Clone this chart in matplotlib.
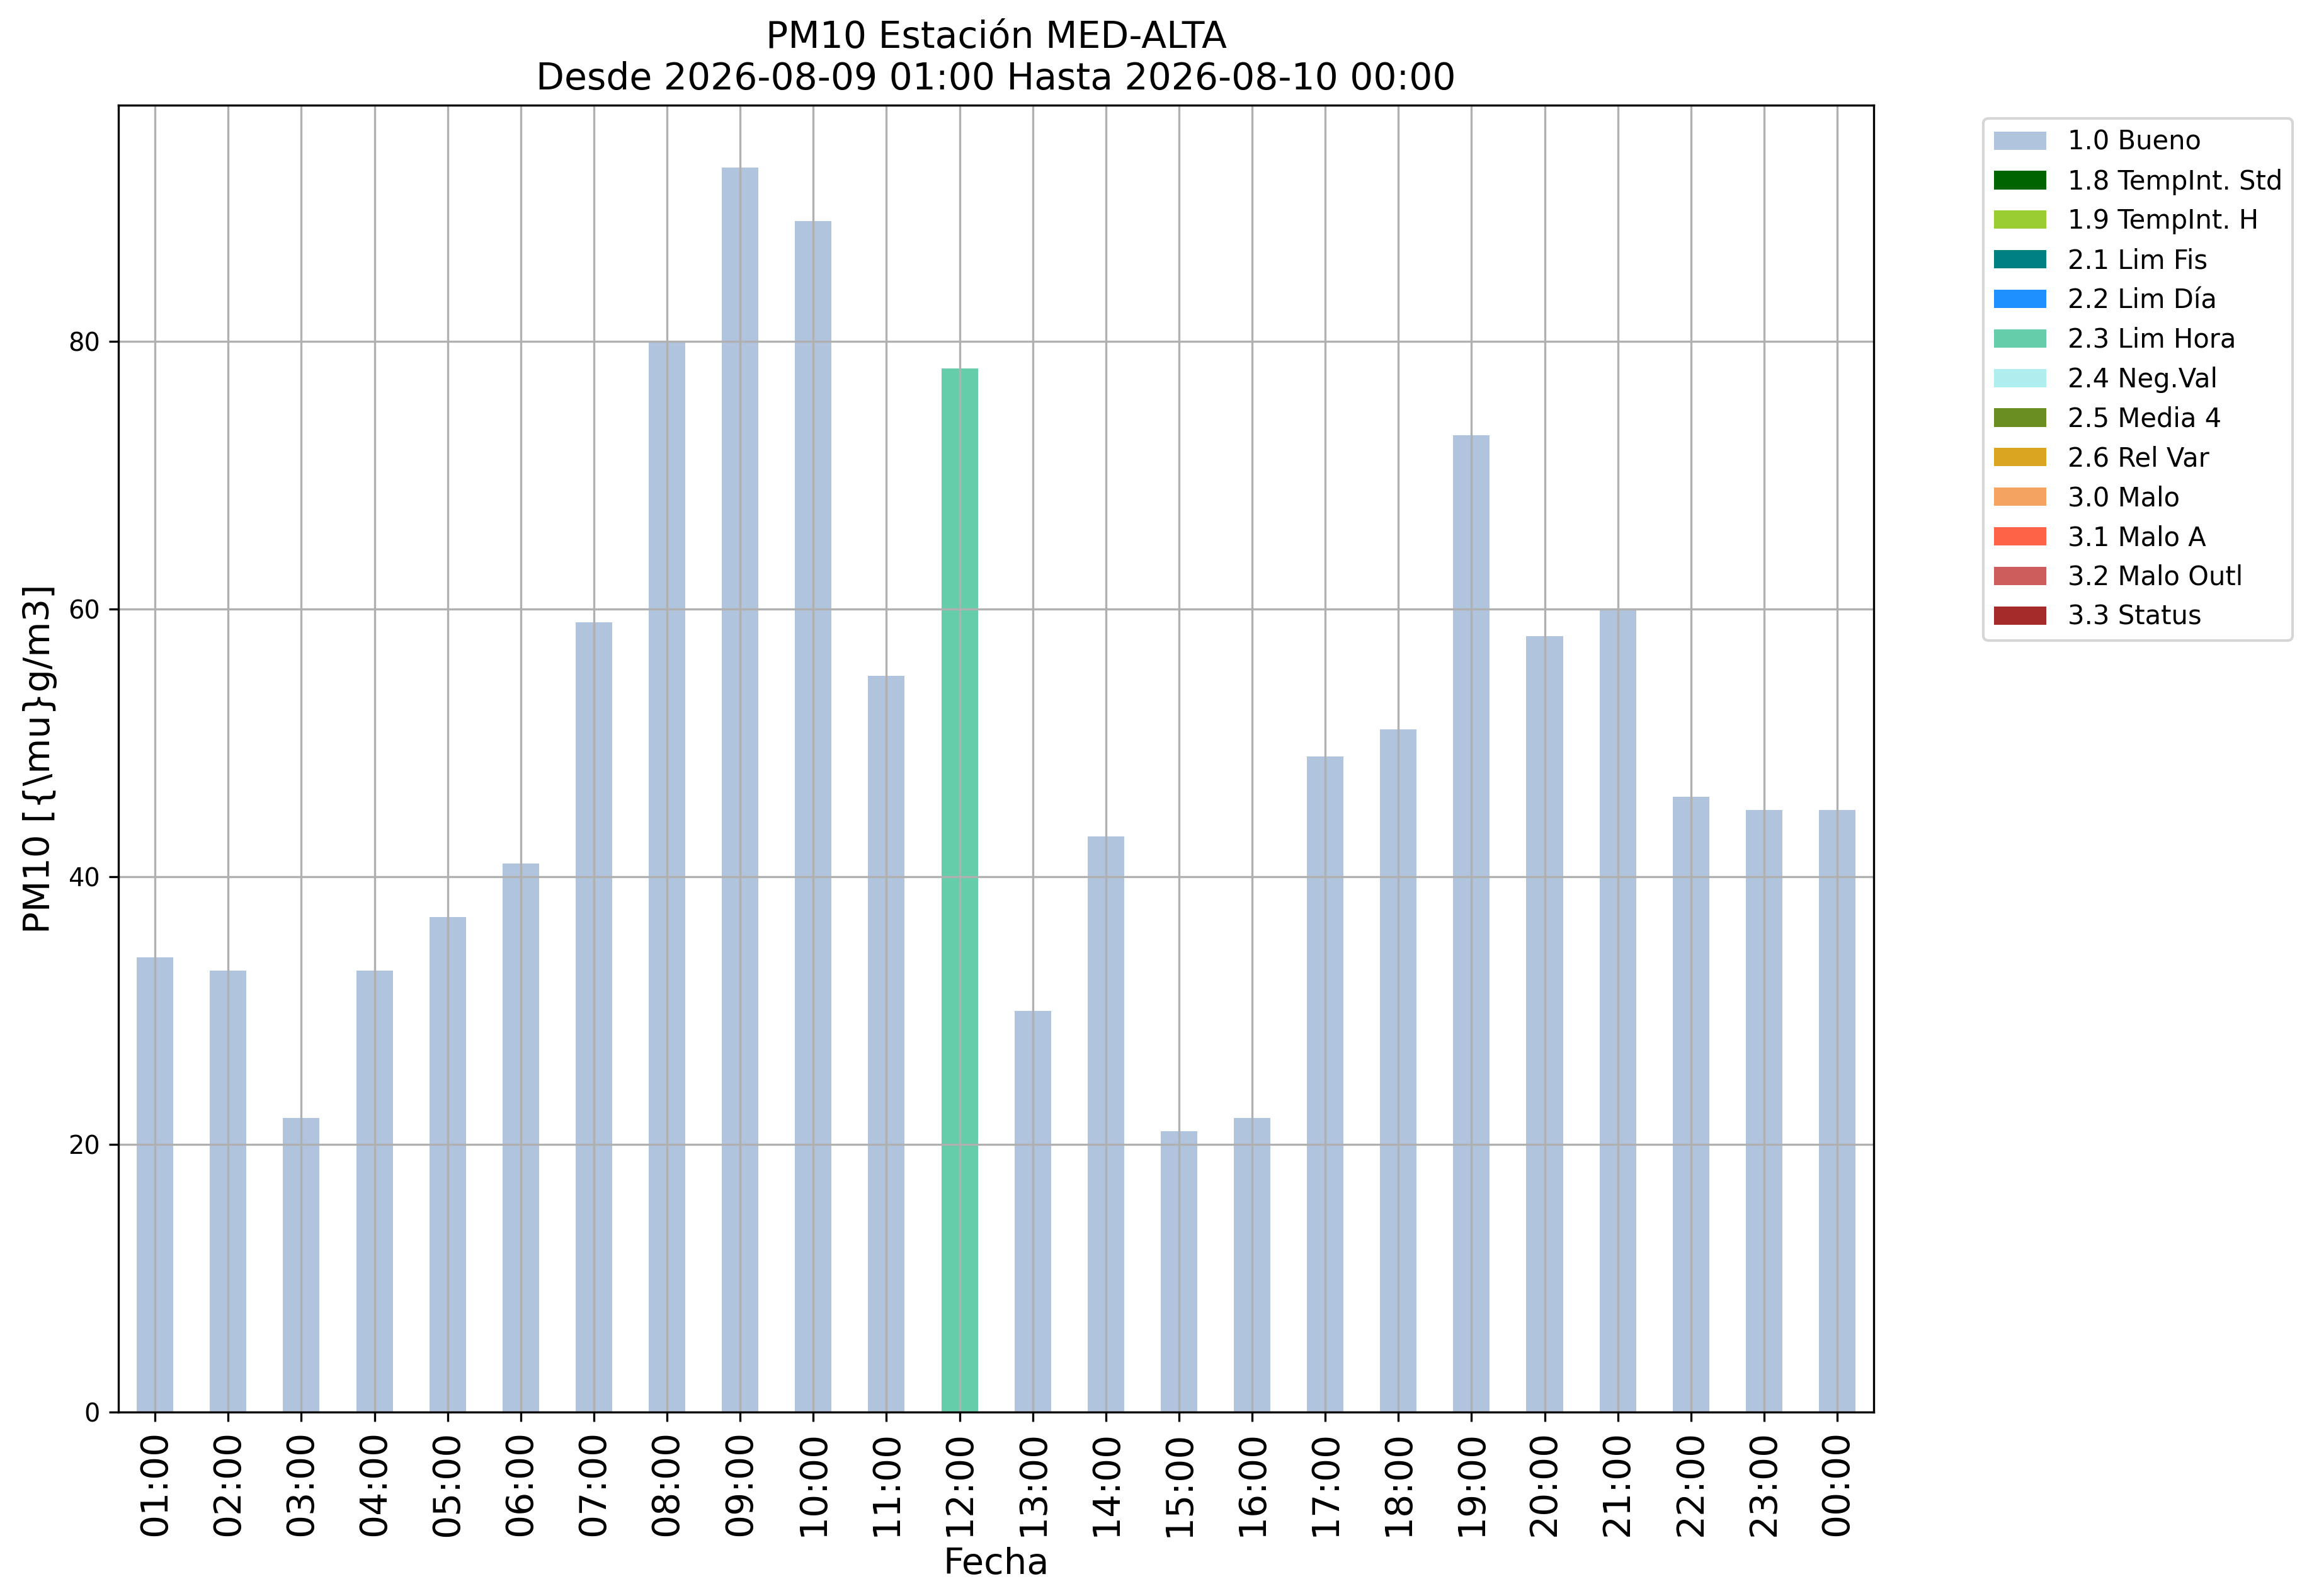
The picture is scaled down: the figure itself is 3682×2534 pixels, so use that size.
import matplotlib
matplotlib.use("Agg")
import matplotlib.pyplot as plt
import numpy as np

hours = ["01:00", "02:00", "03:00", "04:00", "05:00", "06:00", "07:00", "08:00",
         "09:00", "10:00", "11:00", "12:00", "13:00", "14:00", "15:00", "16:00",
         "17:00", "18:00", "19:00", "20:00", "21:00", "22:00", "23:00", "00:00"]

# PM10 value per hour and the validation flag that hour got
pm10 = [34, 33, 22, 33, 37, 41, 59, 80, 93, 89, 55, 78,
        30, 43, 21, 22, 49, 51, 73, 58, 60, 46, 45, 45]
flags = ["1.0 Bueno"] * 11 + ["2.3 Lim Hora"] + ["1.0 Bueno"] * 12

flag_names = ["1.0 Bueno", "1.8 TempInt. Std", "1.9 TempInt. H", "2.1 Lim Fis",
              "2.2 Lim Día", "2.3 Lim Hora", "2.4 Neg.Val", "2.5 Media 4",
              "2.6 Rel Var", "3.0 Malo", "3.1 Malo A", "3.2 Malo Outl", "3.3 Status"]
flag_colors = ["lightsteelblue", "darkgreen", "yellowgreen", "teal",
               "dodgerblue", "mediumaquamarine", "paleturquoise", "olivedrab",
               "goldenrod", "sandybrown", "tomato", "indianred", "brown"]

fig = plt.figure(figsize=(3682 / 300, 2534 / 300), dpi=300)
ax = fig.add_axes([0.0511, 0.1152, 0.808 - 0.0511, 0.934 - 0.1152])

x = np.arange(len(hours))
bottom = np.zeros(len(hours))
for name, color in zip(flag_names, flag_colors):
    vals = np.array([v if f == name else 0 for v, f in zip(pm10, flags)], dtype=float)
    ax.bar(x, vals, 0.5, bottom=bottom, color=color, label=name)
    bottom += vals

ax.set_xlim(-0.5, len(hours) - 0.5)
ax.set_ylim(0, max(pm10) * 1.05)
ax.set_xticks(x)
ax.set_xticklabels(hours, rotation=90, fontsize=14)
ax.tick_params(axis="y", labelsize=9.6)
ax.grid(True)
ax.set_xlabel("Fecha", fontsize=13.8)
ax.set_ylabel("PM10 [{\\mu}g/m3]", fontsize=13.8)
ax.set_title("PM10 Estación MED-ALTA\nDesde 2026-08-09 01:00 Hasta 2026-08-10 00:00", fontsize=14)
ax.legend(bbox_to_anchor=(1.055, 1), loc="upper left", fontsize=10)

fig.savefig("out.png", dpi=300)
